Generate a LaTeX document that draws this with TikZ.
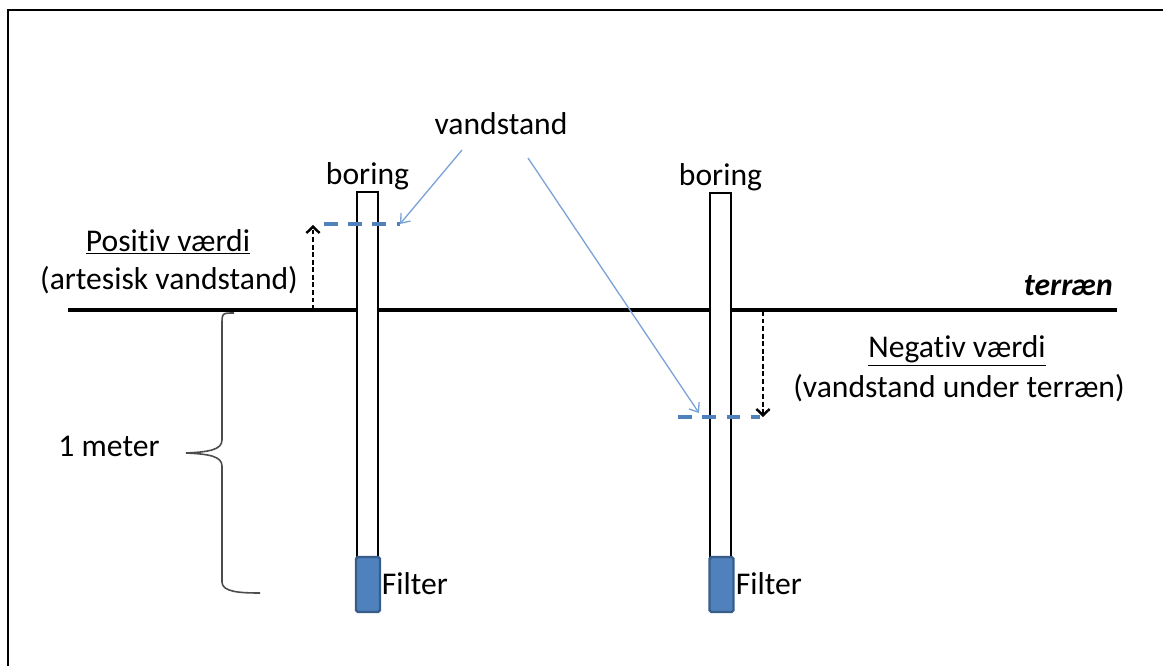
\documentclass[tikz,border=0pt]{standalone}
\usepackage{fontspec}
\setmainfont[Ligatures=NoCommon]{Carlito}
\usetikzlibrary{arrows.meta,positioning}

\definecolor{wellblue}{HTML}{4F81BD}
\definecolor{wellborder}{HTML}{385D8A}
\definecolor{pointerblue}{HTML}{7AA3D8}

\begin{document}
\begin{tikzpicture}[x=0.02cm, y=-0.02cm,
  every node/.style={font=\fontsize{18}{21}\selectfont, inner sep=0pt}]
\tikzstyle{pipe} = [draw=black, fill=white, line width=0.8pt]
\tikzstyle{filter} = [draw=wellborder, fill=wellblue, line width=1.4pt,
  rounded corners=1pt]
\tikzstyle{ground} = [line width=2.2pt, black]
\tikzstyle{level} = [wellblue, line width=2pt, dash pattern=on 7.8pt off 6pt]
\tikzstyle{pointer} = [pointerblue, line width=0.75pt,
  -{Straight Barb[length=4.5pt,width=7pt]}]
\tikzstyle{rise} = [black, line width=1.4pt, dash pattern=on 2.8pt off 1.5pt,
  -{Straight Barb[length=3.6pt,width=7.5pt]}]
\tikzstyle{brace} = [draw=black!70, line width=0.9pt]

\useasboundingbox (0,0) rectangle (1163,666);
\draw[line width=1.5pt] (8,666) -- (8,10) -- (1163,10);

% terrain
\draw[ground] (68,310) coordinate (tl) -- (1117,310) coordinate (tr);
\node[anchor=east] (terr) at (1113,286) {\textbf{\textit{terræn}}};

% boring 1
\coordinate (bor1) at (367.5,192);
\draw[pipe] (bor1) ++(-10.5,0) rectangle ++(21,365);
\draw[filter] (bor1) ++(-11.5,365) rectangle ++(24,55);
\node[above=0.4mm of bor1] (lab1) {boring};
\coordinate (filt1) at (380,584);
\node[right=0.3mm of filt1] (flab1) {Filter};

% boring 2
\coordinate (bor2) at (720.5,193);
\draw[pipe] (bor2) ++(-10.5,0) rectangle ++(21,364);
\draw[filter] (bor2) ++(-11,364) rectangle ++(24,55);
\node[above=0.4mm of bor2] (lab2) {boring};
\coordinate (filt2) at (734,584);
\node[right=0.3mm of filt2] (flab2) {Filter};

% water levels
\draw[level] (324,224) -- (400,224) coordinate (lev1);
\draw[level] (678,417) -- (760,417) coordinate (lev2);

\node (vandstand) at (501,124) {vandstand};
\coordinate (vs1) at (462,150);
\coordinate (vs2) at (528,158);
\coordinate (lev2tip) at (699,413);
\draw[pointer] (vs1) -- (lev1);
\draw[pointer] (vs2) -- (lev2tip);

% measured values
\coordinate (g1) at (313,310);
\coordinate (w1) at (313,225);
\draw[rise] (g1) -- (w1);
\node (pos) at (168,242) {\underline{Positiv værdi}};
\node (art) at (169,280) {(artesisk vandstand)};

\coordinate (g2) at (763,311);
\coordinate (w2) at (763,417);
\draw[rise] (g2) -- (w2);
\node (neg) at (957,351) {\underline{Negativ værdi}};
\node (under) at (959,388) {(vandstand under terræn)};

% depth
\draw[brace] (234,313) .. controls (222,313) .. (222,325) -- (222,440)
  .. controls (222,450) and (208,452) .. (186,453)
  .. controls (208,454) and (222,456) .. (222,466) -- (222,582)
  .. controls (222,592) and (240,593) .. (260,593);
\node (meter) at (109,446) {1 meter};
\end{tikzpicture}
\end{document}
